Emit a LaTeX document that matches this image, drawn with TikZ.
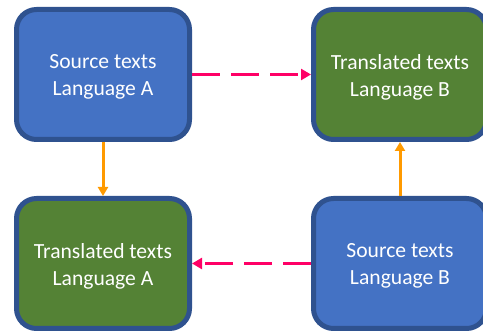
\documentclass[tikz,border=0pt]{standalone}
\usepackage{fontspec}
\setmainfont{Carlito}
\usetikzlibrary{arrows.meta}
\definecolor{boxblue}{HTML}{4472C4}
\definecolor{boxgreen}{HTML}{548235}
\definecolor{boxedge}{HTML}{2F528F}
\definecolor{pinkarr}{HTML}{FF0066}
\definecolor{orangearr}{HTML}{FF9A00}
\tikzset{
  box/.style={rectangle, rounded corners=20pt, draw=boxedge, line width=5pt,
    minimum width=173pt, minimum height=130pt},
  srcbox/.style={box, fill=boxblue},
  trbox/.style={box, fill=boxgreen},
  boxtext/.style={text=white, align=center, inner sep=0pt,
    font=\fontsize{21.6pt}{27pt}\selectfont},
  dasharr/.style={draw=pinkarr, line width=3.5pt, dash pattern=on 28pt off 11pt,
    -{Triangle[length=10pt,width=11pt]}},
  solidarr/.style={draw=orangearr, line width=3pt,
    -{Triangle[length=9pt,width=10pt]}}
}
\begin{document}
\begin{tikzpicture}[x=1pt,y=-1pt]
\useasboundingbox (0,0) rectangle (483,331);
\clip (0,0) rectangle (483,331);
\node[srcbox] (sa) at (103,74.5) {};
\node[trbox] (tb) at (400,74.5) {};
\node[trbox] (ta) at (103,263.5) {};
\node[srcbox] (sb) at (400,263.5) {};
\node[boxtext] (saT) at ([yshift=-2.5pt]sa.center) {Source texts\\Language A};
\node[boxtext] (tbT) at ([yshift=-2.5pt]tb.center) {Translated texts\\Language B};
\node[boxtext] (taT) at ([yshift=-2.5pt]ta.center) {Translated texts\\Language A};
\node[boxtext] (sbT) at ([yshift=-2.5pt]sb.center) {Source texts\\Language B};
\draw[dasharr] (sa) -- (tb);
\draw[dasharr] (sb) -- (ta);
\draw[solidarr] (sa) -- (ta);
\draw[solidarr] (sb) -- (tb);
\end{tikzpicture}
\end{document}
